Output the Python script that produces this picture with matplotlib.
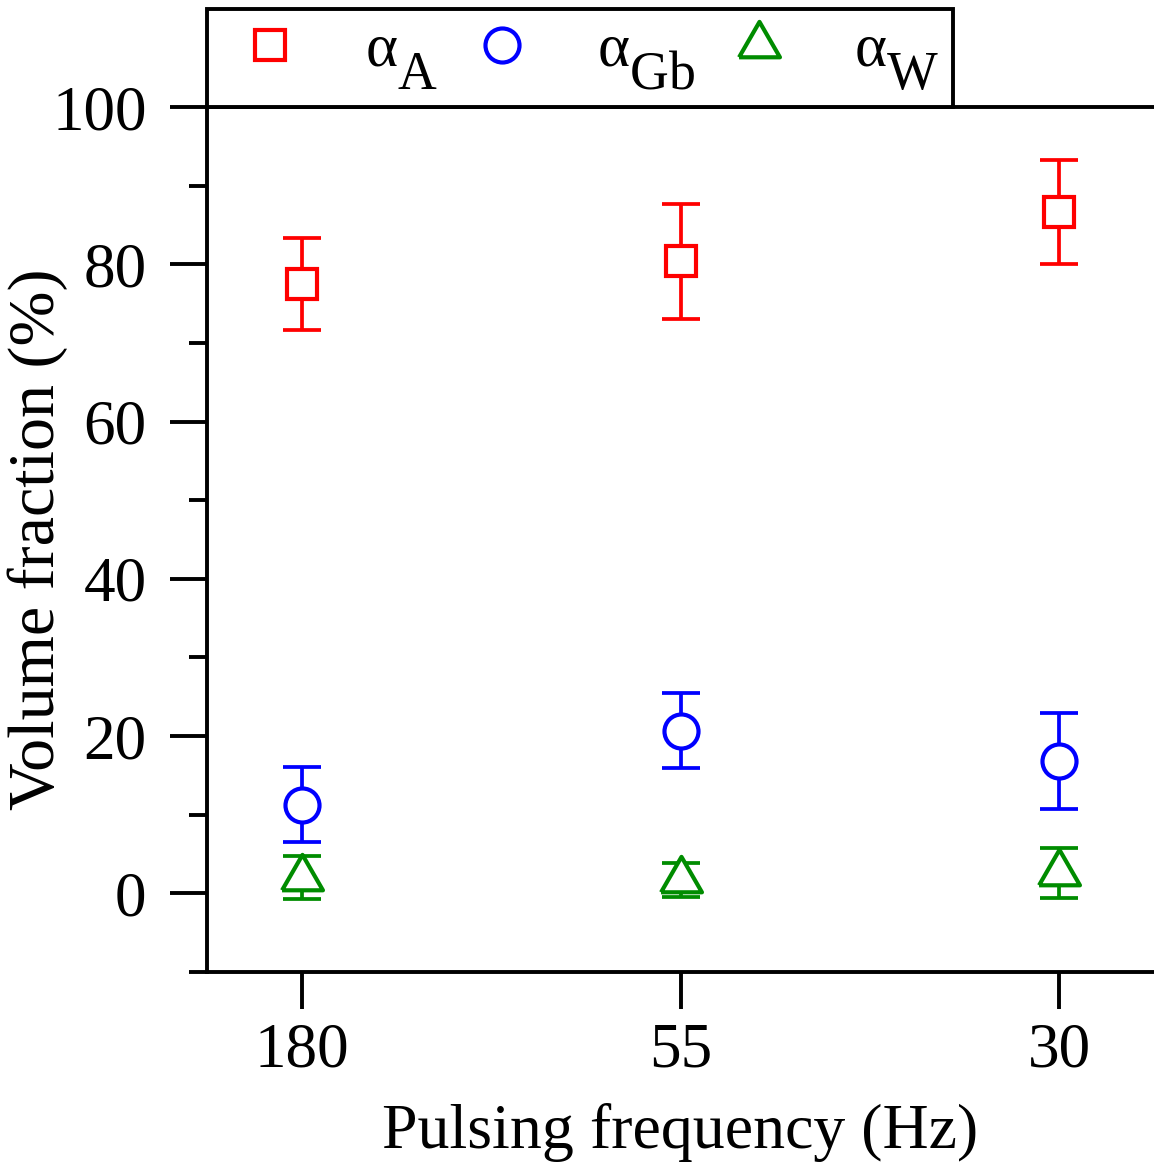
import matplotlib
import matplotlib._mathtext as mathtext_impl
import numpy as np
from matplotlib import pyplot as plt
from matplotlib.ticker import MultipleLocator

matplotlib.use("Agg")

# data
frequencies = ["180", "55", "30"]
alpha_a = [77.5, 80.4, 86.6]
alpha_a_err = [5.8, 7.3, 6.6]
alpha_gb = [11.3, 20.7, 16.8]
alpha_gb_err = [4.8, 4.8, 6.1]
alpha_w = [2.0, 1.7, 2.6]
alpha_w_err = [2.7, 2.2, 3.2]

plt.rcParams["font.family"] = ["Liberation Serif", "DejaVu Serif"]
plt.rcParams["mathtext.fontset"] = "custom"
plt.rcParams["mathtext.rm"] = "Liberation Serif"
plt.rcParams["mathtext.it"] = "Liberation Serif:italic"
# the legend subscripts are large and dropped low in the original
mathtext_impl.SHRINK_FACTOR = 0.88
mathtext_impl.FontConstantsBase.sub1 = 0.85

W, H = 1154, 1168
fig = plt.figure(figsize=(W / 100, H / 100), dpi=100)
ax = fig.add_axes([207 / W, 1 - 972 / H, 1 - 207 / W, (972 - 107) / H])

x = np.arange(len(frequencies))
tri = [(-1.0, -0.577), (1.0, -0.577), (0.0, 1.155), (-1.0, -0.577)]
series = [
    (alpha_a, alpha_a_err, "#ff0000", "s", 22, r"$\mathrm{\alpha}_\mathrm{A}$"),
    (alpha_gb, alpha_gb_err, "#0000ff", "o", 24.5, r"$\mathrm{\alpha}_\mathrm{Gb}$"),
    (alpha_w, alpha_w_err, "#008c00", tri, 34, r"$\mathrm{\alpha}_\mathrm{W}$"),
]
for vals, errs, color, marker, ms, label in series:
    ax.errorbar(
        x, vals, yerr=errs, fmt="none", ecolor=color, elinewidth=2.7,
        capsize=14, capthick=2.7, zorder=2,
    )
    ax.plot(
        x, vals, linestyle="none", marker=marker, markersize=ms,
        markerfacecolor="white", markeredgecolor=color, markeredgewidth=3.0,
        label=label, zorder=3,
    )

ax.set_xlim(-0.25, 2.25)
ax.set_ylim(-10, 100)
ax.set_xticks(x)
ax.set_xticklabels(frequencies)
ax.yaxis.set_minor_locator(MultipleLocator(10))
ax.set_yticks([0, 20, 40, 60, 80, 100])

ax.spines["right"].set_visible(False)
for side in ("left", "bottom", "top"):
    ax.spines[side].set_linewidth(2.8)
ax.tick_params(axis="both", which="major", direction="out", length=26.5, width=2.8,
               labelsize=45.5)
ax.tick_params(axis="y", which="major", pad=17)
ax.tick_params(axis="x", which="major", pad=10)
ax.tick_params(axis="y", which="minor", direction="out", length=13, width=2.8)
ax.tick_params(top=False, right=False)

ax.set_xlabel("Pulsing frequency (Hz)", fontsize=46, labelpad=16)
ax.set_ylabel("Volume fraction (%)", fontsize=47.5)
ax.yaxis.set_label_coords(-0.147, 0.5)

leg = ax.legend(
    loc="lower left", bbox_to_anchor=(0, 1), borderaxespad=0, ncol=3,
    fontsize=44, frameon=True, fancybox=False, edgecolor="black", framealpha=1,
    handlelength=1.6, handletextpad=0.75, columnspacing=0.25, borderpad=0.23,
    numpoints=1,
)
leg.get_frame().set_linewidth(2.8)

fig.savefig("out.png", dpi=100)
